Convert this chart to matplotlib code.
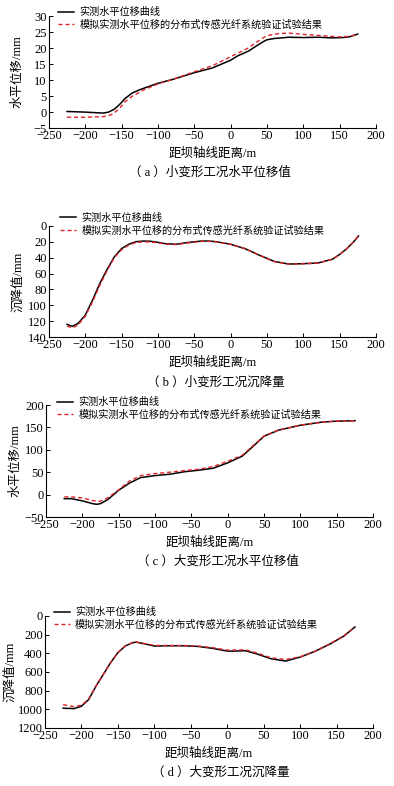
import matplotlib
matplotlib.use("Agg")
import matplotlib.pyplot as plt

plt.rcParams['font.family'] = ['Liberation Serif', 'Noto Sans CJK SC']
plt.rcParams['axes.unicode_minus'] = True

# ---- data ----
# (a) small deformation, horizontal displacement
xa_meas = [-225, -200, -175, -168, -160, -155, -150, -145, -135, -125, -120, -100, -80, -50, -25, 0, 10, 25, 35, 45, 50, 60, 80, 100, 120, 140, 155, 165, 175]
ya_meas = [0.2, 0.0, -0.3, 0.0, 0.9, 1.9, 3.0, 4.3, 6.0, 7.0, 7.4, 9.0, 10.2, 12.3, 13.8, 16.2, 17.6, 19.1, 20.6, 22.0, 22.6, 23.0, 23.4, 23.3, 23.4, 23.2, 23.3, 23.6, 24.4]
xa_sim = [-225, -200, -175, -165, -160, -155, -150, -145, -135, -130, -120, -100, -80, -50, -25, 0, 25, 40, 50, 65, 80, 100, 125, 150, 165, 175]
ya_sim = [-1.6, -1.6, -1.4, -0.9, -0.2, 0.7, 1.9, 3.3, 5.0, 5.6, 6.9, 8.8, 10.2, 12.6, 14.5, 17.3, 20.1, 22.5, 23.9, 24.5, 24.7, 24.3, 23.9, 23.5, 23.7, 24.4]

# (b) small deformation, settlement
xb = [-225, -218, -210, -200, -190, -180, -170, -160, -150, -140, -130, -120, -110, -100, -90, -75, -60, -40, -30, -20, 0, 20, 40, 60, 80, 100, 120, 140, 150, 160, 170, 176]
yb_meas = [124, 126.5, 123, 112.6, 93.7, 72.7, 55, 39, 28.6, 23, 19.8, 19, 19.3, 20.6, 22.3, 23, 21, 19, 19, 19.8, 23, 28.6, 37, 44.6, 48, 47.5, 46.7, 42, 36, 28.6, 19.3, 12.6]
yb_sim = [126, 128.5, 125, 114, 96, 75, 56.5, 40, 30, 24, 20.8, 20, 20.2, 21.2, 22.8, 23.5, 21.5, 19.5, 19.3, 20, 23, 28.6, 37, 45, 48, 47.7, 46.8, 42, 36, 28.6, 19.3, 12.8]

# (c) large deformation, horizontal displacement
xc = [-225, -215, -200, -185, -180, -175, -165, -150, -135, -120, -100, -80, -60, -40, -20, 0, 20, 35, 50, 70, 100, 130, 150, 175]
yc_meas = [-9, -9, -14, -20.5, -21.6, -20, -11, 10, 26, 38, 42.5, 45.5, 51, 54.5, 59, 71, 86, 108, 130.6, 144, 155, 162, 164, 165]
yc_sim = [-5, -5, -7.5, -13.5, -15, -14.5, -7, 11, 30.6, 42.5, 47, 50, 53.7, 56.7, 62.7, 74.6, 88, 109.7, 131, 144, 155, 162, 164, 165]

# (d) large deformation, settlement
xd = [-225, -210, -200, -190, -180, -170, -160, -150, -140, -130, -125, -110, -100, -80, -60, -40, -20, 0, 10, 25, 40, 60, 80, 100, 120, 140, 160, 175]
yd_meas = [988, 992, 967, 895, 752, 627, 501, 394, 322, 287, 280, 304, 322, 319, 319, 326, 347, 376, 376, 372, 405, 458, 483, 440, 380, 304, 215, 118]
yd_sim = [950, 972, 956, 890, 750, 625, 500, 392, 320, 285, 278, 300, 315, 316, 316, 322, 340, 365, 365, 362, 395, 448, 466, 437, 378, 300, 212, 118]

lab_meas = '实测水平位移曲线'
lab_sim = '模拟实测水平位移的分布式传感光纤系统验证试验结果'
xlab = '距坝轴线距离/m'

fig = plt.figure(figsize=(3.94, 7.86), dpi=100)

panels = [
    # rect, x1, y1, x2, y2, ylim, yticks, ylabel, legend anchor, caption, caption pos, ylabel x(px)
    ([0.124, 0.837, 0.830, 0.1425], xa_meas, ya_meas, xa_sim, ya_sim, (-5, 30), range(-5, 31, 5),
     '水平位移/mm', (0.028, 1.08), '（ a ）小变形工况水平位移值', (0.533, 0.780), 24),
    ([0.124, 0.5712, 0.830, 0.1413], xb, yb_meas, xb, yb_sim, (140, 0), range(0, 141, 20),
     '沉降值/mm', (0.034, 1.117), '（ b ）小变形工况沉降量', (0.548, 0.513), 24),
    ([0.117, 0.3422, 0.830, 0.1425], xc, yc_meas, xc, yc_sim, (-50, 200), range(-50, 201, 50),
     '水平位移/mm', (0.034, 1.07), '（ c ）大变形工况水平位移值', (0.554, 0.285), 21),
    ([0.114, 0.0738, 0.833, 0.1425], xd, yd_meas, xd, yd_sim, (1200, 0), range(0, 1201, 200),
     '沉降值/mm', (0.027, 1.08), '（ d ）大变形工况沉降量', (0.56, 0.0165), 16),
]

for rect, x1, y1, x2, y2, ylim, yticks, ylab, anchor, cap, cpos, ylx in panels:
    ax = fig.add_axes(rect)
    ax.plot(x1, y1, color='black', lw=1.1, label=lab_meas)
    ax.plot(x2, y2, color='#e0262b', lw=1.0, ls=(0, (3, 2)), label=lab_sim)
    ax.set_xlim(-250, 200)
    ax.set_xticks(range(-250, 201, 50))
    ax.set_ylim(*ylim)
    ax.set_yticks(list(yticks))
    ax.spines['top'].set_visible(False)
    ax.spines['right'].set_visible(False)
    ax.spines['left'].set_linewidth(0.8)
    ax.spines['bottom'].set_linewidth(0.8)
    ax.tick_params(direction='in', length=3, width=0.7, labelsize=9, pad=1.5)
    ax.set_xlabel(xlab, fontsize=9, labelpad=4)
    ax.set_ylabel(ylab, fontsize=9)
    ax.yaxis.set_label_coords((ylx - rect[0] * 394) / (rect[2] * 394), 0.5)
    leg = ax.legend(loc='upper left', bbox_to_anchor=anchor, frameon=False, fontsize=7.3,
                    borderpad=0, borderaxespad=0, handlelength=1.6, handletextpad=0.5,
                    labelspacing=0.25)
    fig.text(cpos[0], cpos[1], cap, ha='center', va='center', fontsize=9)

fig.savefig('out.png', dpi=100)
